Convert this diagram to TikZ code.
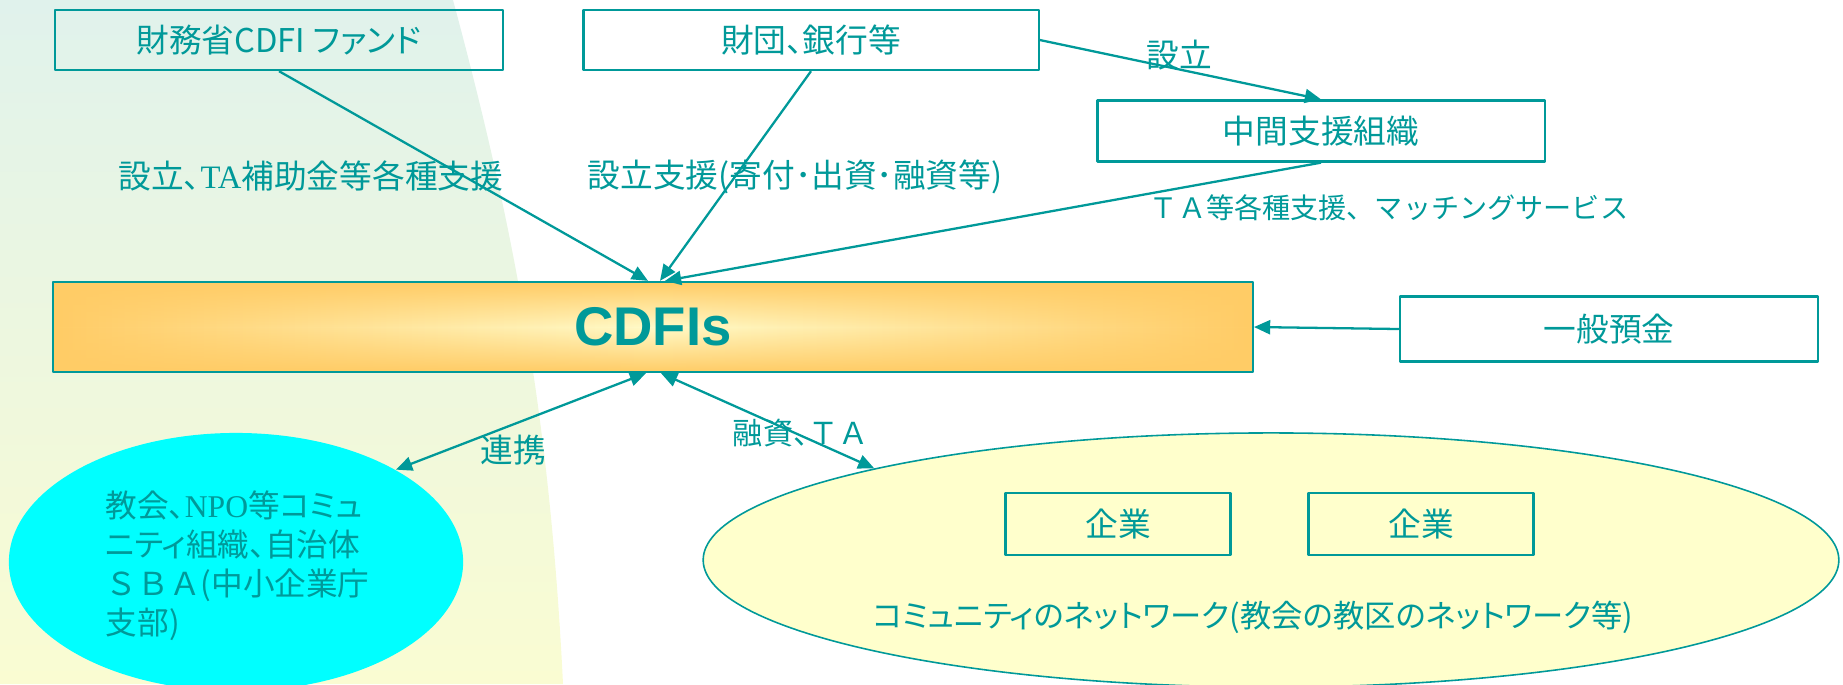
\documentclass[tikz,border=0pt]{standalone}
\usepackage{fontspec}
\setmainfont{Noto Sans CJK JP}[RawFeature=+palt]
\setsansfont{Liberation Sans}
\newfontfamily\tmsfont{Liberation Serif}
\newfontfamily\jpfull{Noto Sans CJK JP}
\usetikzlibrary{shapes.geometric,arrows.meta,fadings}
\definecolor{cdteal}{RGB}{0,153,153}
\definecolor{cdorange}{RGB}{255,204,102}
\definecolor{cdlight}{RGB}{255,250,200}
\definecolor{bgtop}{RGB}{224,242,236}
\definecolor{bgbot}{RGB}{250,252,210}
\definecolor{netfill}{RGB}{255,255,204}
\definecolor{npofill}{RGB}{0,255,255}
\tikzfading[name=cdfifade, top color=transparent!0, bottom color=transparent!0, middle color=transparent!100]
\begin{document}
\begin{tikzpicture}[x=0.01cm, y=-0.01cm, font=\fontsize{9.3}{11}\selectfont, line join=round, >={Triangle[length=4.6pt,width=4pt]},
    box/.style={draw=cdteal, line width=0.65pt, text=cdteal, minimum height=0.6cm, inner sep=0pt},
    lbl/.style={text=cdteal, inner sep=0pt},
    link/.style={draw=cdteal, line width=0.65pt}]
    \useasboundingbox (0,0) rectangle (1843,684);
    \shade[top color=bgtop, bottom color=bgbot] (0,0) -- (453,0) .. controls (515,230) and (550,420) .. (563,684) -- (0,684) -- cycle;
    \node (fund) [box, minimum width=4.48cm] at (279,40) {財務省CDFI ファンド};
    \node (bank) [box, minimum width=4.55cm] at (811,40) {財団、銀行等};
    \node (inter) [box, minimum width=4.47cm, minimum height=0.61cm] at (1321,131) {中間支援組織};
    \node (dep) [box, minimum width=4.18cm, minimum height=0.65cm] at (1609,329) {一般預金};
    \node (cdfi) [box, minimum width=11.99cm, minimum height=0.9cm, left color=cdorange, right color=cdorange, middle color=cdlight,
        path picture={\fill[cdorange, path fading=cdfifade] (path picture bounding box.south west) rectangle (path picture bounding box.north east);},
        font=\sffamily\bfseries\fontsize{15.5}{18}\selectfont] at (653,327) {CDFIs};
    \node (npo) [ellipse, fill=npofill, minimum width=4.54cm, minimum height=2.58cm, inner sep=0pt] at (236,562) {};
    \node (npotext) [lbl, align=left, anchor=west, font=\fontsize{9}{11.1}\selectfont] at (105,566) {教会、{\tmsfont NPO}等コミュ\\ニティ組織、自治体\\{\jpfull ＳＢＡ}(中小企業庁\\支部)};
    \node (net) [ellipse, draw=cdteal, fill=netfill, line width=0.45pt, minimum width=11.35cm, minimum height=2.54cm, inner sep=0pt] at (1271,560) {};
    \foreach \i/\x in {1/1118,2/1421}
        \node (firm\i) [box, minimum width=2.25cm, minimum height=0.62cm] at (\x,524) {企業};
    \node (nettext) [lbl, font=\fontsize{8.9}{10}\selectfont] at (1253,617) {コミュニティのネットワーク(教会の教区のネットワーク等)};
    \node (l1) [lbl] at (311,176) {設立、{\tmsfont TA}補助金等各種支援};
    \node (l2) [lbl] at (795,177) {設立支援(寄付･出資･融資等)};
    \node (l3) [lbl] at (1179,55) {設立};
    \node (l4) [lbl, font=\jpfull\fontsize{8}{10}\selectfont] at (1389,208) {ＴＡ等各種支援、マッチングサービス};
    \node (l5) [lbl] at (513,450) {連携};
    \node (l6) [lbl, font=\fontsize{8.6}{10}\selectfont] at (801,433) {融資、{\jpfull ＴＡ}};
    \draw[link,->] (fund.south) -- ([xshift=-0.05cm]cdfi.north);
    \draw[link,->] (bank.south) -- ([xshift=0.07cm]cdfi.north);
    \draw[link,->] (inter.south) -- ([xshift=0.12cm]cdfi.north);
    \draw[link,->] (bank.east) -- (inter.north);
    \draw[link,->] (dep.west) -- (cdfi.east);
    \draw[link,<->] ([xshift=-0.07cm]cdfi.south) -- (npo.30);
    \draw[link,<->] ([xshift=0.08cm]cdfi.south) -- (net.167);
\end{tikzpicture}
\end{document}
